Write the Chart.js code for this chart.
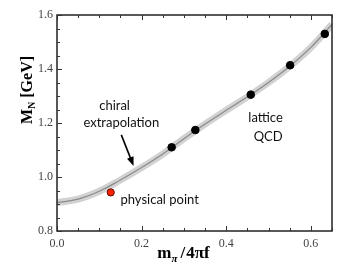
<!DOCTYPE html>
<html>
<head>
<meta charset="utf-8">
<script src="https://cdn.jsdelivr.net/npm/chart.js@4.4.0/dist/chart.umd.min.js"></script>
<style>
  body { margin: 0; background: #fff; }
  #wrap { width: 354px; height: 266px; }
</style>
</head>
<body>
<div id="wrap"><canvas id="chart" width="354" height="266"></canvas></div>
<script>
// chiral extrapolation, centre of the band
const curveX = [0, 0.05, 0.1, 0.15, 0.2, 0.25, 0.3, 0.35, 0.4, 0.45, 0.5, 0.55, 0.6, 0.65];
const curveY = [0.905, 0.918, 0.947, 0.989, 1.035, 1.085, 1.142, 1.196, 1.247, 1.297, 1.350, 1.410, 1.480, 1.565];

// lattice QCD points
const latticeX = [0.271, 0.327, 0.458, 0.551, 0.633];
const latticeY = [1.110, 1.174, 1.305, 1.414, 1.530];

// physical point
const physX = [0.127];
const physY = [0.943];

// labelled ticks
const xTicks = [0.0, 0.2, 0.4, 0.6];
const yTicks = [0.8, 1.0, 1.2, 1.4, 1.6];

// annotation anchors (data coords)
const arrowFrom = [0.152, 1.156];
const arrowTo = [0.181, 1.041];

const pts = (xs, ys) => xs.map((x, i) => ({ x: x, y: ys[i] }));
const isMajor = (v, list) => list.some(t => Math.abs(t - v) < 1e-6);
const SERIF = '"Liberation Serif", "Times New Roman", serif';

const decor = {
  id: 'decor',
  afterDraw(chart) {
    const ctx = chart.ctx;
    const a = chart.chartArea;
    const xs = chart.scales.x, ys = chart.scales.y;
    ctx.save();

    // frame
    ctx.strokeStyle = '#222';
    ctx.lineWidth = 1.5;
    ctx.strokeRect(a.left, a.top, a.right - a.left, a.bottom - a.top);

    // inward ticks
    ctx.lineWidth = 1;
    ctx.strokeStyle = '#333';
    ctx.beginPath();
    xs.ticks.forEach(t => {
      const px = Math.round(xs.getPixelForValue(t.value)) + 0.5;
      const len = isMajor(t.value, xTicks) ? 5 : 3;
      ctx.moveTo(px, a.bottom); ctx.lineTo(px, a.bottom - len);
      ctx.moveTo(px, a.top); ctx.lineTo(px, a.top + len);
    });
    ys.ticks.forEach(t => {
      const py = Math.round(ys.getPixelForValue(t.value)) + 0.5;
      const len = isMajor(t.value, yTicks) ? 5 : 3;
      ctx.moveTo(a.left, py); ctx.lineTo(a.left + len, py);
    });
    ctx.stroke();

    // arrow
    const x0 = xs.getPixelForValue(arrowFrom[0]), y0 = ys.getPixelForValue(arrowFrom[1]);
    const x1 = xs.getPixelForValue(arrowTo[0]), y1 = ys.getPixelForValue(arrowTo[1]);
    const ang = Math.atan2(y1 - y0, x1 - x0);
    ctx.strokeStyle = '#000';
    ctx.fillStyle = '#000';
    ctx.lineWidth = 1.6;
    ctx.beginPath();
    ctx.moveTo(x0, y0);
    ctx.lineTo(x1 - 6 * Math.cos(ang), y1 - 6 * Math.sin(ang));
    ctx.stroke();
    ctx.beginPath();
    ctx.moveTo(x1, y1);
    ctx.lineTo(x1 - 9 * Math.cos(ang) + 3.5 * Math.sin(ang), y1 - 9 * Math.sin(ang) - 3.5 * Math.cos(ang));
    ctx.lineTo(x1 - 9 * Math.cos(ang) - 3.5 * Math.sin(ang), y1 - 9 * Math.sin(ang) + 3.5 * Math.cos(ang));
    ctx.closePath();
    ctx.fill();

    // annotations
    ctx.fillStyle = '#111';
    ctx.font = '13px Lato';
    ctx.textBaseline = 'middle';
    ctx.textAlign = 'center';
    ctx.fillText('chiral', xs.getPixelForValue(0.136), ys.getPixelForValue(1.263));
    ctx.fillText('extrapolation', xs.getPixelForValue(0.152), ys.getPixelForValue(1.200));
    ctx.fillText('lattice', xs.getPixelForValue(0.493), ys.getPixelForValue(1.219));
    ctx.fillText('QCD', xs.getPixelForValue(0.499), ys.getPixelForValue(1.148));
    ctx.textAlign = 'left';
    ctx.fillText('physical point', xs.getPixelForValue(0.150), ys.getPixelForValue(0.915));

    // x axis title: m_pi / 4 pi f
    ctx.fillStyle = '#000';
    ctx.textBaseline = 'alphabetic';
    const big = 'bold 17px ' + SERIF, small = 'italic bold 11px ' + SERIF;
    ctx.font = big; const wm = ctx.measureText('m').width;
    const wr = ctx.measureText('/4\u03c0f').width;
    ctx.font = small; const wp = ctx.measureText('\u03c0').width;
    const gap = 3;
    let cx = 184 - (wm + wp + gap + wr + 2) / 2;
    ctx.font = big; ctx.fillText('m', cx, 258); cx += wm;
    ctx.font = small; ctx.fillText('\u03c0', cx, 262); cx += wp + gap;
    ctx.font = big; ctx.fillText('/', cx, 258); cx += ctx.measureText('/').width + 1;
    ctx.fillText('4\u03c0f', cx, 258);

    // y axis title: M_N [GeV]
    ctx.translate(32, 90);
    ctx.rotate(-Math.PI / 2);
    const bigY = 'bold 16px ' + SERIF, smallY = 'bold 10px ' + SERIF;
    ctx.font = bigY; const wM = ctx.measureText('M').width;
    const wG = ctx.measureText(' [GeV]').width;
    ctx.font = smallY; const wN = ctx.measureText('N').width;
    let cy = -(wM + wN + wG) / 2;
    ctx.font = bigY; ctx.fillText('M', cy, 0); cy += wM;
    ctx.font = smallY; ctx.fillText('N', cy, 3); cy += wN;
    ctx.font = bigY; ctx.fillText(' [GeV]', cy, 0);

    ctx.restore();
  }
};

new Chart(document.getElementById('chart').getContext('2d'), {
  type: 'scatter',
  data: {
    datasets: [
      {
        label: 'physical point',
        data: pts(physX, physY),
        backgroundColor: '#ff2200',
        borderColor: '#5a0a00',
        borderWidth: 1,
        pointRadius: 3.6,
        order: 0
      },
      {
        label: 'lattice QCD',
        data: pts(latticeX, latticeY),
        backgroundColor: '#000',
        borderColor: '#000',
        pointRadius: 3.8,
        order: 1
      },
      {
        label: 'centre',
        data: pts(curveX, curveY),
        showLine: true,
        borderColor: '#8a8a8a',
        borderWidth: 1.2,
        pointRadius: 0,
        tension: 0.4,
        order: 2
      },
      {
        label: 'band',
        data: pts(curveX, curveY),
        showLine: true,
        borderColor: '#d2d2d2',
        borderWidth: 7,
        pointRadius: 0,
        tension: 0.4,
        order: 3
      }
    ]
  },
  options: {
    responsive: false,
    devicePixelRatio: 1,
    animation: false,
    layout: { padding: { left: 0, top: 15, right: 22, bottom: 0 } },
    plugins: { legend: { display: false }, tooltip: { enabled: false } },
    scales: {
      x: {
        type: 'linear',
        min: 0,
        max: 0.65,
        grid: { display: false, drawTicks: false },
        border: { display: false },
        afterFit: s => { s.height = 35; },
        ticks: {
          stepSize: 0.05,
          autoSkip: false,
          maxRotation: 0,
          padding: 6,
          color: '#444',
          font: { family: SERIF, size: 12 },
          callback: v => isMajor(v, xTicks) ? v.toFixed(1) : ''
        }
      },
      y: {
        type: 'linear',
        min: 0.8,
        max: 1.6,
        grid: { display: false, drawTicks: false },
        border: { display: false },
        afterFit: s => { s.width = 57; },
        ticks: {
          stepSize: 0.05,
          autoSkip: false,
          padding: 4,
          color: '#444',
          font: { family: SERIF, size: 12 },
          callback: v => isMajor(v, yTicks) ? v.toFixed(1) : ''
        }
      }
    }
  },
  plugins: [decor]
});
</script>
</body>
</html>
